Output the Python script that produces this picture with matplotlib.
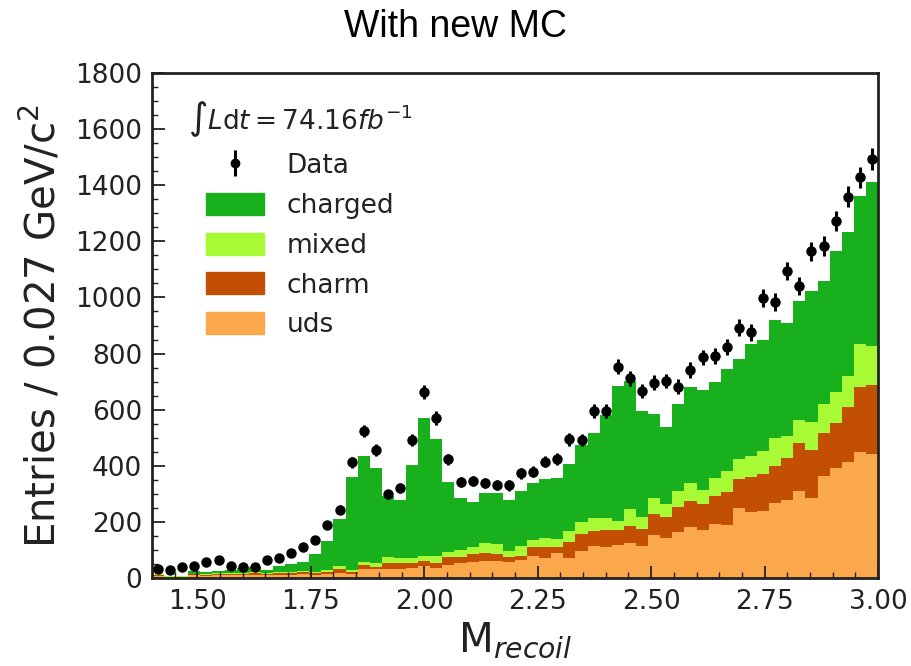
import numpy as np
import matplotlib
matplotlib.use("Agg")
import matplotlib.pyplot as plt
from matplotlib.ticker import MultipleLocator, FormatStrFormatter
from matplotlib.patches import Patch

# Binning of the recoil-mass spectrum
x_min, x_max, n_bins = 1.4, 3.0, 60

# Observed events per bin
data = [33, 30, 39, 44, 56, 64, 43, 39, 39, 64,
        71, 88, 109, 134, 189, 243, 412, 524, 456, 298,
        322, 492, 663, 571, 423, 342, 346, 339, 331, 330,
        373, 379, 415, 425, 494, 492, 596, 596, 753, 712,
        666, 696, 702, 682, 741, 786, 791, 824, 892, 876,
        999, 983, 1095, 1041, 1165, 1183, 1273, 1359, 1428, 1493]

# MC components per bin (stacked bottom to top: uds, charm, mixed, charged)
uds = [6, 4, 4, 9, 8, 10, 10, 11, 12, 9,
       12, 12, 13, 12, 14, 19, 13, 31, 31, 33,
       32, 37, 43, 37, 47, 52, 56, 62, 59, 58,
       64, 78, 72, 88, 72, 97, 114, 112, 118, 124,
       115, 152, 141, 165, 183, 171, 192, 189, 248, 236,
       239, 266, 278, 311, 284, 365, 391, 414, 450, 443]
charm = [5, 1, 1, 5, 3, 4, 6, 5, 5, 5,
         6, 6, 7, 7, 8, 13, 7, 15, 9, 22,
         23, 15, 16, 15, 27, 24, 28, 26, 27, 18,
         16, 34, 40, 24, 56, 60, 54, 59, 54, 61,
         60, 76, 75, 89, 91, 92, 101, 119, 104, 125,
         131, 133, 151, 171, 172, 153, 160, 196, 232, 245]
mixed = [2, 3, 2, 2, 3, 3, 3, 3, 4, 3,
         4, 4, 4, 4, 5, 12, 8, 12, 12, 21,
         17, 20, 19, 26, 20, 24, 25, 36, 34, 20,
         34, 23, 29, 26, 41, 44, 45, 42, 32, 61,
         43, 56, 47, 55, 64, 49, 62, 73, 72, 74,
         84, 99, 77, 81, 99, 101, 113, 111, 153, 140]
charged = [2, 0, 0, 9, 7, 9, 9, 15, 17, 11,
           22, 28, 32, 63, 106, 165, 331, 377, 341, 215,
           206, 331, 493, 417, 249, 184, 161, 178, 184, 181,
           197, 205, 211, 217, 237, 273, 305, 368, 480, 455,
           377, 301, 277, 311, 344, 358, 342, 363, 355, 398,
           394, 420, 404, 425, 468, 439, 502, 511, 527, 583]

labels = ["uds", "charm", "mixed", "charged"]
colors = ["#fba84c", "#c24f02", "#a8fb34", "#19b01d"]
ink = "#222222"

edges = np.linspace(x_min, x_max, n_bins + 1)
centers = 0.5 * (edges[:-1] + edges[1:])

fig = plt.figure(figsize=(9.11, 6.66), dpi=100)
ax = fig.add_axes([0.1668, 0.1321, 0.7970, 0.7583])

ax.hist([centers] * 4, bins=edges,
        weights=[uds, charm, mixed, charged],
        stacked=True, histtype="stepfilled",
        color=colors, label=labels, linewidth=0)

data_arr = np.array(data, dtype=float)
ax.errorbar(centers, data_arr, yerr=np.sqrt(data_arr), fmt="o",
            color="black", markersize=6.5, elinewidth=2.2, capsize=0,
            zorder=5)

ax.set_xlim(x_min, x_max)
ax.set_ylim(0, 1800)
ax.xaxis.set_major_locator(MultipleLocator(0.25))
ax.xaxis.set_minor_locator(MultipleLocator(0.05))
ax.yaxis.set_major_locator(MultipleLocator(200))
ax.yaxis.set_minor_locator(MultipleLocator(50))
ax.xaxis.set_major_formatter(FormatStrFormatter("%.2f"))
ax.tick_params(which="both", direction="in", top=False, right=False,
               labelsize=19, colors=ink)
ax.tick_params(which="major", length=9, width=1.3)
ax.tick_params(which="minor", length=4.5, width=1.0)
ax.tick_params(axis="x", pad=8)
ax.tick_params(axis="y", pad=7)
for sp in ax.spines.values():
    sp.set_linewidth(2)
    sp.set_color(ink)

ax.set_ylabel(r"Entries / 0.027 GeV/c$^2$", fontsize=29, color=ink,
              labelpad=8)
ax.set_xlabel(r"M$_{recoil}$", fontsize=29, color=ink, labelpad=4)

# Data entry in the legend drawn as a point with a vertical error bar
eb = ax.errorbar([], [], yerr=[], fmt="o", color="black", markersize=6,
                 elinewidth=2.2, capsize=0)
handles = [eb, Patch(color=colors[3]), Patch(color=colors[2]),
           Patch(color=colors[1]), Patch(color=colors[0])]
leg = ax.legend(handles, ["Data", "charged", "mixed", "charm", "uds"],
                loc="upper left", frameon=False, fontsize=19,
                title=r"$\int L\mathrm{d}t = 74.16fb^{-1}$",
                title_fontsize=19, handlelength=2.2, handleheight=0.9,
                labelspacing=0.52, handletextpad=0.85, borderaxespad=0.0,
                bbox_to_anchor=(0.035, 0.968))
for t in leg.get_texts():
    t.set_color(ink)
leg.get_title().set_color(ink)

fig.text(0.5, 0.960, "With new MC", ha="center", va="center",
         fontsize=27, family="Liberation Sans")

fig.savefig("out.png", dpi=100)
